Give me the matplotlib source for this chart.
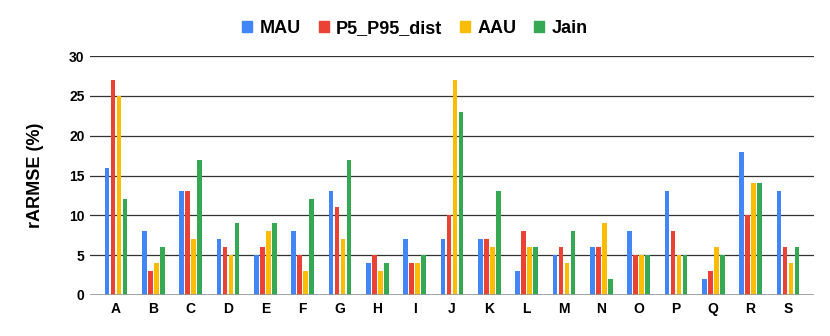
import numpy as np
import matplotlib
matplotlib.use('Agg')
import matplotlib.pyplot as plt
from matplotlib.patches import Patch

# data
categories = list('ABCDEFGHIJKLMNOPQRS')
mau = [16, 8, 13, 7, 5, 8, 13, 4, 7, 7, 7, 3, 5, 6, 8, 13, 2, 18, 13]
p5_p95 = [27, 3, 13, 6, 6, 5, 11, 5, 4, 10, 7, 8, 6, 6, 5, 8, 3, 10, 6]
aau = [25, 4, 7, 5, 8, 3, 7, 3, 4, 27, 6, 6, 4, 9, 5, 5, 6, 14, 4]
jain = [12, 6, 17, 9, 9, 12, 17, 4, 5, 23, 13, 6, 8, 2, 5, 5, 5, 14, 6]

series_names = ['MAU', 'P5_P95_dist', 'AAU', 'Jain']
colors = ['#4285F4', '#EA4335', '#FBBC04', '#34A853']

plt.rcParams['font.family'] = ['Liberation Sans', 'DejaVu Sans']

fig = plt.figure(figsize=(8.3, 3.36), dpi=100)
ax = fig.add_axes([90 / 830, 41 / 336, 724 / 830, 239 / 336])

x = np.arange(len(categories))
bw = 0.125
pitch = 0.16
for i, (vals, c) in enumerate(zip([mau, p5_p95, aau, jain], colors)):
    ax.bar(x + (i - 1.5) * pitch, vals, width=bw, color=c, zorder=3)

ax.set_xlim(-0.7, len(categories) - 0.3)
ax.set_ylim(0, 30)
ax.set_yticks(range(0, 31, 5))
ax.set_xticks(x)
ax.set_xticklabels(categories, fontweight='bold', fontsize=10)
for t in ax.get_yticklabels():
    t.set_fontweight('bold')
    t.set_fontsize(10)
ax.tick_params(axis='y', length=0, pad=4)
ax.tick_params(axis='x', length=0, pad=5)
ax.grid(axis='y', color='#333333', linewidth=0.9, zorder=0)
for s in ax.spines.values():
    s.set_visible(False)
ax.axhline(0, color='#999999', linewidth=1.2, zorder=4)

ax.set_ylabel('rARMSE (%)', fontweight='bold', fontsize=13, labelpad=18)

handles = [Patch(color=c) for c in colors]
fig.legend(handles, series_names, loc='center', bbox_to_anchor=(0.5, 0.915),
           ncol=4, frameon=False, prop={'weight': 'bold', 'size': 13},
           handlelength=0.55, handleheight=0.55, handletextpad=0.4, columnspacing=1.0)

fig.savefig('out.png', dpi=100)
